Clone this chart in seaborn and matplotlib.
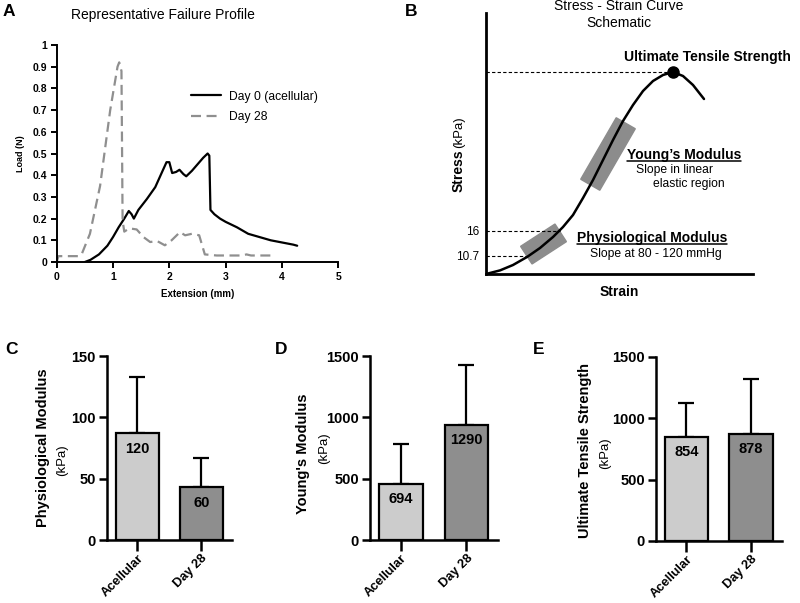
import numpy as np
import pandas as pd
import matplotlib
matplotlib.use("Agg")
import matplotlib.pyplot as plt
import seaborn as sns
from matplotlib.patches import Rectangle
from matplotlib.transforms import Affine2D
from matplotlib.lines import Line2D

# ---- data ----
# panel A: representative failure profiles (extension mm, load N)
day0_ext = [0.5, 0.6, 0.75, 0.9, 1.0, 1.1, 1.2, 1.28, 1.33, 1.37, 1.45, 1.6, 1.75, 1.88, 1.95, 2.0,
            2.05, 2.12, 2.18, 2.25, 2.3, 2.4, 2.5, 2.6, 2.68, 2.71, 2.73, 2.8, 2.9, 3.0, 3.2, 3.4,
            3.6, 3.8, 4.0, 4.2, 4.27]
day0_load = [0.0, 0.01, 0.035, 0.075, 0.115, 0.16, 0.2, 0.235, 0.22, 0.2, 0.24, 0.29, 0.345, 0.42,
             0.46, 0.46, 0.41, 0.415, 0.425, 0.405, 0.395, 0.42, 0.45, 0.48, 0.5, 0.49, 0.24, 0.22,
             0.2, 0.185, 0.16, 0.13, 0.115, 0.1, 0.09, 0.08, 0.075]
day28_ext = [0.0, 0.03, 0.4, 0.45, 0.59, 0.77, 0.95, 1.08, 1.11, 1.15, 1.17, 1.2, 1.29, 1.42, 1.54,
             1.66, 1.78, 1.92, 2.04, 2.19, 2.28, 2.4, 2.53, 2.63, 2.84, 3.3, 3.37, 3.45, 3.85]
day28_load = [0.0, 0.027, 0.027, 0.04, 0.13, 0.35, 0.7, 0.9, 0.92, 0.88, 0.19, 0.14, 0.155, 0.15,
              0.115, 0.092, 0.097, 0.077, 0.1, 0.138, 0.123, 0.13, 0.123, 0.035, 0.03, 0.03, 0.035,
              0.03, 0.03]

# panel B: schematic stress-strain curve (arbitrary units)
schem_strain = [0, 14, 27, 41, 54, 67, 77, 87, 97, 107, 117, 127, 137, 147, 157, 167, 177, 187,
                197, 207, 218]
schem_stress = [0, 3.6, 9, 17, 26, 37, 47, 59, 76, 94, 114, 134, 153, 169, 183, 193, 199, 202,
                198, 189, 175]
uts_point = (187, 202)
phys_levels = [18, 43]
phys_labels = ["10.7", "16"]

# panels C-E: mean and SD
groups = ["Acellular", "Day 28"]
phys_mean = [87, 43]
phys_sd = [46, 24]
phys_n = ["120", "60"]
young_mean = [456, 938]
young_sd = [327, 489]
young_n = ["694", "1290"]
uts_mean = [848, 872]
uts_sd = [277, 449]
uts_n = ["854", "878"]

sns.set_style("ticks")
plt.rcParams["font.family"] = ["Liberation Sans", "DejaVu Sans"]
for k in ["text.color", "axes.labelcolor", "xtick.color", "ytick.color", "axes.edgecolor"]:
    plt.rcParams[k] = "black"

W, H = 800, 603
fig = plt.figure(figsize=(8, 6.03), dpi=100)


def px_axes(l, t, r, b):
    return fig.add_axes([l / W, 1 - b / H, (r - l) / W, (b - t) / H])


def ftext(x, y, s, **kw):
    return fig.text(x / W, 1 - y / H, s, **kw)


# ---------------- Panel A ----------------
axA = px_axes(56.7, 45, 338.3, 262)
sns.lineplot(x=day0_ext, y=day0_load, ax=axA, color="black", lw=1.6, sort=False,
             estimator=None, label="Day 0 (acellular)")
sns.lineplot(x=day28_ext, y=day28_load, ax=axA, color="#8f8f8f", lw=1.6, sort=False,
             estimator=None, label="Day 28")
axA.lines[1].set_dashes((4.5, 2.5))
axA.set_xlim(0, 5)
axA.set_ylim(0, 1)
axA.set_xticks(range(6))
axA.set_yticks(np.arange(0, 1.01, 0.1))
axA.set_yticklabels(["0"] + [f"{v:.1f}" for v in np.arange(0.1, 0.95, 0.1)] + ["1"])
for sp in ["top", "right"]:
    axA.spines[sp].set_visible(False)
for sp in ["left", "bottom"]:
    axA.spines[sp].set_linewidth(1.4)
axA.tick_params(width=1.4, length=4, labelsize=7.5, pad=3)
for lab in axA.get_xticklabels() + axA.get_yticklabels():
    lab.set_fontweight("bold")
axA.set_xlabel("Extension (mm)", fontsize=7, fontweight="bold", labelpad=5)
axA.set_ylabel("Load (N)", fontsize=6.5, fontweight="bold", labelpad=5)
leg = axA.legend(loc="upper left", bbox_to_anchor=(0.477, 0.79), frameon=False, fontsize=8.7,
                 handlelength=2.45, handletextpad=0.7, labelspacing=0.7, borderpad=0,
                 borderaxespad=0)
leg.get_lines()[1].set_dashes((4.5, 2.5))
ftext(163, 15, "Representative Failure Profile", fontsize=10, ha="center", va="center")
ftext(3, 12, "A", fontsize=12.5, fontweight="bold", ha="left", va="center")

# ---------------- Panel B ----------------
axB = px_axes(486, 13, 753, 274)
sns.lineplot(x=schem_strain, y=schem_stress, ax=axB, color="black", lw=1.8, sort=False,
             estimator=None)
axB.set_xlim(0, 267)
axB.set_ylim(0, 261)
for sp in ["top", "right"]:
    axB.spines[sp].set_visible(False)
for sp in ["left", "bottom"]:
    axB.spines[sp].set_linewidth(2)
axB.set_xticks([])
axB.set_yticks(phys_levels, phys_labels)
axB.tick_params(axis="y", length=0, pad=5, labelsize=8.5)
axB.plot(*uts_point, "o", color="black", ms=8)
axB.plot([0, uts_point[0]], [uts_point[1]] * 2, ls=(0, (3, 2)), color="black", lw=0.8)
axB.plot([0, 74], [phys_levels[1]] * 2, ls=(0, (3, 2)), color="black", lw=0.8)
axB.plot([0, 41], [phys_levels[0]] * 2, ls=(0, (3, 2)), color="black", lw=0.8)
for (cx, cy, L, Wd, ang) in [(57.5, 30, 41, 21, 33), (122, 120, 71, 22, 60)]:
    r = Rectangle((-L / 2, -Wd / 2), L, Wd, color="#8c8c8c", zorder=1,
                  transform=Affine2D().rotate_deg(ang).translate(cx, cy) + axB.transData)
    axB.add_patch(r)
axB.set_xlabel("Strain", fontsize=10, fontweight="bold", labelpad=8)
ftext(619, 6, "Stress - Strain Curve", fontsize=10, ha="center", va="center")
ftext(619, 23, "Schematic", fontsize=10, ha="center", va="center")
ftext(459, 171, "Stress", fontsize=10, fontweight="bold", rotation=90, ha="center", va="center")
ftext(459, 132, "(kPa)", fontsize=9.5, rotation=90, ha="center", va="center")
ftext(405, 12, "B", fontsize=12.5, fontweight="bold", ha="left", va="center")
axB.text(221, 217, "Ultimate Tensile Strength", fontsize=10, fontweight="bold", ha="center",
         va="center")
t1 = axB.text(141, 119, "Young\u2019s Modulus", fontsize=10, fontweight="bold", ha="left",
              va="center")
axB.text(150, 104, "Slope in linear", fontsize=8.7, ha="left", va="center")
axB.text(167, 90, "elastic region", fontsize=8.7, ha="left", va="center")
t2 = axB.text(91, 36, "Physiological Modulus", fontsize=10, fontweight="bold", ha="left",
              va="center")
axB.text(104, 20, "Slope at 80 - 120 mmHg", fontsize=8.7, ha="left", va="center")

fig.canvas.draw()
rend = fig.canvas.get_renderer()
for t in (t1, t2):
    bb = t.get_window_extent(rend)
    y = bb.y0 + 0.5
    fig.add_artist(Line2D([bb.x0 / W, bb.x1 / W], [y / H, y / H], color="black", lw=1.1,
                          transform=fig.transFigure))


# ---------------- Panels C-E ----------------
def bar_panel(rect, means, sds, ns, ymax, step, label, lab_pos, kpa_pos, letter_pos, letter):
    ax = px_axes(*rect)
    df = pd.DataFrame({"group": groups, "value": means})
    sns.barplot(data=df, x="group", y="value", hue="group", palette=["#cccccc", "#8e8e8e"],
                edgecolor="black", linewidth=1.6, width=0.67, ax=ax, legend=False, zorder=2)
    ax.errorbar(range(2), means, yerr=[[0, 0], sds], fmt="none", ecolor="black",
                elinewidth=1.6, capsize=6, capthick=1.6, zorder=1)
    for i, (m, n) in enumerate(zip(means, ns)):
        ax.annotate(n, (i, m), xytext=(0, -6), textcoords="offset points", ha="center",
                    va="top", fontsize=10.5, fontweight="bold", zorder=3)
    ax.set_ylim(0, ymax)
    ax.set_xlim(-0.47, 1.48)
    ax.set_yticks(np.arange(0, ymax + 1, step))
    for sp in ["top", "right"]:
        ax.spines[sp].set_visible(False)
    for sp in ["left", "bottom"]:
        ax.spines[sp].set_linewidth(1.8)
    ax.tick_params(width=1.8, length=6, labelsize=10.5, pad=2)
    ax.tick_params(axis="x", length=8, pad=1)
    for lab in ax.get_yticklabels():
        lab.set_fontweight("bold")
    ax.set_xticks(range(2), groups, rotation=45, ha="right", rotation_mode="anchor",
                  fontweight="bold", fontsize=9.3)
    ax.set_xlabel("")
    ax.set_ylabel("")
    ftext(*lab_pos, label, fontsize=10.5, fontweight="bold", rotation=90, ha="center",
          va="center")
    ftext(*kpa_pos, "(kPa)", fontsize=9.5, rotation=90, ha="center", va="center")
    ftext(*letter_pos, letter, fontsize=12.5, fontweight="bold", ha="left", va="center")


bar_panel((107, 356, 232, 540), phys_mean, phys_sd, phys_n, 150, 50,
          "Physiological Modulus", (43, 448), (62, 460), (5, 349), "C")
bar_panel((370, 356, 498, 540), young_mean, young_sd, young_n, 1500, 500,
          "Young's Modulus", (303, 454), (324, 448), (275, 349), "D")
bar_panel((656, 357, 782, 541), uts_mean, uts_sd, uts_n, 1500, 500,
          "Ultimate Tensile Strength", (585, 450), (605, 453), (533, 349), "E")

fig.savefig("out.png", dpi=100)
